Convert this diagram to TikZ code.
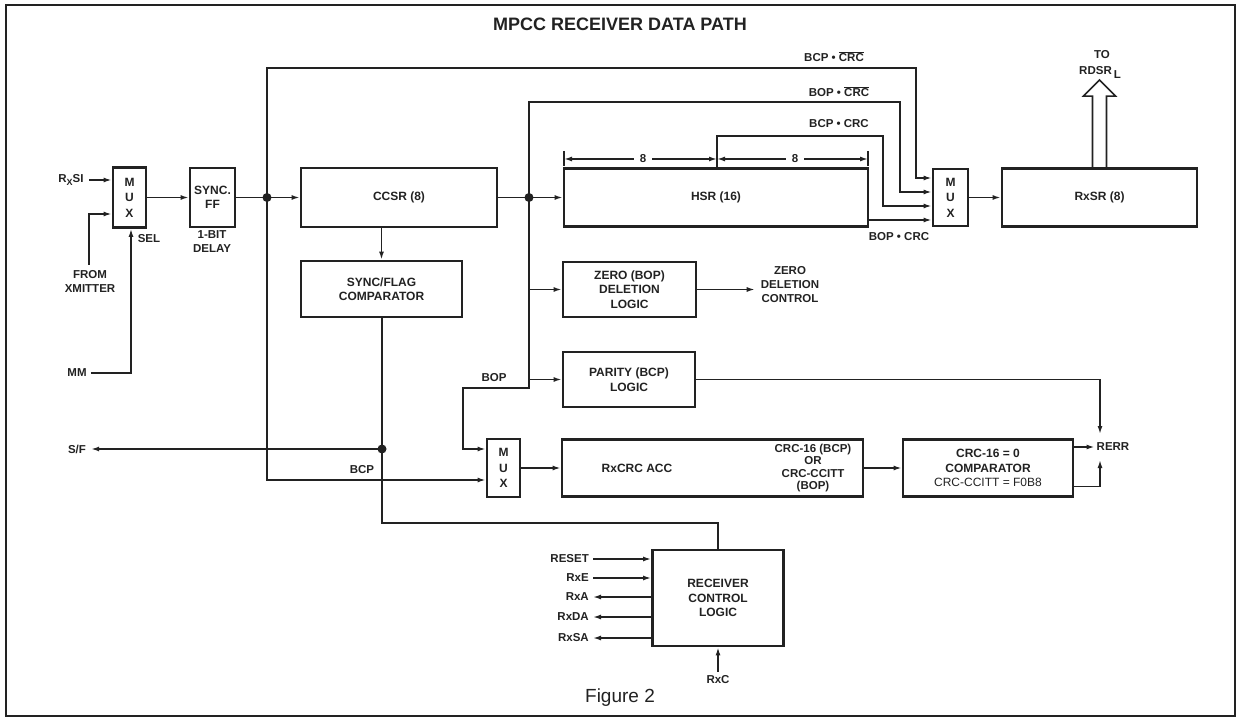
\documentclass[tikz,border=0pt]{standalone}
\usepackage{fontspec}
\setmainfont{Liberation Sans}
\usetikzlibrary{arrows.meta,calc}
\definecolor{ink}{HTML}{222222}
\newcommand\lbl{\bfseries\fontsize{11.5}{14}\selectfont}
\newcommand\bxf{\bfseries\fontsize{12}{14.5}\selectfont}
\newcommand\muxf{\bfseries\fontsize{12}{15.5}\selectfont}
\newcommand\ovl[1]{$\overline{\mbox{#1}}$}
\begin{document}
\begin{tikzpicture}[x=1pt,y=-1pt,color=ink,
  blk/.style={draw,line width=2.8pt,inner sep=0pt,align=center,font=\bxf},
  wire/.style={line width=1.5pt},
  arr/.style={line width=1.5pt,-{Latex[length=8pt,width=5pt]}},
  jdot/.style={circle,fill,inner sep=0pt,minimum size=9pt},
  lab/.style={inner sep=0pt,align=center,font=\lbl}]
\useasboundingbox (0,0) rectangle (1240,719);
\draw[line width=1.5pt] (6,5) rectangle (1235,716);

% title and caption
\node[font=\bfseries\fontsize{18}{20}\selectfont] (title) at (620,24) {MPCC RECEIVER DATA PATH};
\node[font=\fontsize{19}{21}\selectfont] (fig) at (620,698) {Figure 2};

% blocks
\node[blk,font=\muxf,minimum width=33pt,minimum height=60pt] (mux1) at (129.5,197.5) {M\\U\\X};
\node[blk,minimum width=45pt,minimum height=59pt] (sff) at (212.5,197.5) {SYNC.\\FF};
\node[blk,minimum width=196pt,minimum height=59pt] (ccsr) at (399,197.5) {CCSR (8)};
\node[blk,minimum width=161pt,minimum height=56pt] (sfc) at (381.5,289) {SYNC/FLAG\\COMPARATOR};
\node[blk,minimum width=304pt,minimum height=58pt] (hsr) at (716,197.5) {HSR (16)};
\node[blk,minimum width=133pt,minimum height=55pt] (zero) at (629.5,289.5) {ZERO (BOP)\\DELETION\\LOGIC};
\node[blk,minimum width=132pt,minimum height=55pt] (parity) at (629,379.5) {PARITY (BCP)\\LOGIC};
\node[blk,font=\muxf,minimum width=35pt,minimum height=57pt] (mux2) at (950.5,197.5) {M\\U\\X};
\node[blk,minimum width=195pt,minimum height=58pt] (rxsr) at (1099.5,197.5) {RxSR (8)};
\node[blk,font=\muxf,minimum width=33pt,minimum height=58pt] (mux3) at (503.5,468) {M\\U\\X};
\node[blk,minimum width=301pt,minimum height=57pt] (rxcrc) at (712.5,468) {};
\node[blk,minimum width=170pt,minimum height=57pt] (cmp) at (988,468) {CRC-16 = 0\\COMPARATOR\\{\mdseries CRC-CCITT = F0B8}};
\node[blk,minimum width=131pt,minimum height=96pt] (ctrl) at (718,598) {RECEIVER\\CONTROL\\LOGIC};
\node[lab,font=\bxf] (acc) at (637,468) {RxCRC ACC};
\node[lab,font=\bfseries\fontsize{11.5}{12.6}\selectfont] (crcm) at (813,468) {CRC-16 (BCP)\\OR\\CRC-CCITT\\(BOP)};

% junctions
\node[jdot] (j1) at (267,197.5) {};
\node[jdot] (j2) at (529,197.5) {};
\node[jdot] (j3) at (382,449) {};

% left inputs
\node[lab] (rxsi) at (71,180) {R\raisebox{-3pt}{\fontsize{9}{9}\selectfont X}SI};
\coordinate (in1) at (89,180);
\draw[arr] (in1) -- (in1 -| mux1.west);
\node[lab] (xm) at (90,281) {FROM\\XMITTER};
\coordinate (in2) at (89,214);
\draw[arr] ($(xm.north -| in2)+(0,-5)$) -- (in2) -- (in2 -| mux1.west);
\node[lab] (mm) at (77,373) {MM};
\draw[arr] ($(mm.east)+(4,0)$) -| ($(mux1.south)+(1.5,0)$);
\node[lab] (sel) at (149,239) {SEL};
\node[lab] (dly) at (212,242) {1-BIT\\DELAY};

% main data path
\draw[arr] (mux1.east) -- (sff.west);
\draw[wire] (sff.east) -- (j1.center);
\draw[arr] (j1.center) -- (ccsr.west);
\draw[arr] (sfc.north |- ccsr.south) -- (sfc.north);
\draw[wire] (ccsr.east) -- (j2.center);
\draw[arr] (j2.center) -- (hsr.west);
\draw[arr] (mux2.east) -- (rxsr.west);

% BCP . CRC-bar
\coordinate (k1) at (916,68);
\draw[arr] (j1.center) |- (k1) |- ($(mux2.west)+(0,-19.5)$);
\node[lab] (l1) at (834,57) {BCP \textbullet\ \ovl{CRC}};
% BOP . CRC-bar
\coordinate (k2) at (900,102);
\draw[arr] (j2.center) |- (k2) |- ($(mux2.west)+(0,-5.5)$);
\node[lab] (l2) at (839,92) {BOP \textbullet\ \ovl{CRC}};
% BCP . CRC
\coordinate (t3) at (717,136);
\coordinate (k3) at (883,136);
\draw[arr] (hsr.north -| t3) -- (t3) -- (k3) |- ($(mux2.west)+(0,8.5)$);
\node[lab] (l3) at (839,124) {BCP \textbullet\ CRC};
% BOP . CRC
\draw[arr] ($(hsr.east)+(0,22.5)$) -- ($(mux2.west)+(0,22.5)$);
\node[lab] (l4) at (899,237) {BOP \textbullet\ CRC};

% dimension marks over HSR
\coordinate (d0) at (564,159);
\coordinate (d1) at (717,159);
\coordinate (d2) at (868,159);
\draw[wire] ($(d0)+(0,-8)$) -- ($(d0)+(0,7)$);
\draw[wire] ($(d2)+(0,-8)$) -- ($(d2)+(0,7)$);
\node[lab,inner sep=6pt] (n8a) at (643,159) {8};
\node[lab,inner sep=6pt] (n8b) at (795,159) {8};
\draw[arr] (n8a.west) -- (d0);
\draw[arr] (n8a.east) -- (d1);
\draw[arr] (n8b.west) -- (d1);
\draw[arr] (n8b.east) -- (d2);

% output to RDSR
\draw[line width=1.6pt] ($(rxsr.north)+(-7,0)$) -- ++(0,-71) -- ++(-9,0) -- ++(16,-16) -- ++(16,16) -- ++(-9,0) -- ++(0,71);
\node[lab] (to) at (1102,55) {TO};
\node[lab] (rdsr) at (1100,72) {RDSR\,\raisebox{-4pt}{L}};

% zero deletion
\node[lab] (zdc) at (790,285) {ZERO\\DELETION\\CONTROL};
\draw[arr] (zero.east) -- ($(zdc.west |- zero.east)+(-6,0)$);
\draw[arr] (j2.center |- zero.west) -- (zero.west);
\draw[arr] (j2.center |- parity.west) -- (parity.west);

% BOP path to MUX3
\coordinate (b2) at (529,388);
\coordinate (b3) at (463,388);
\draw[arr] (j2.center) -- (b2) -- (b3) |- ($(mux3.west)+(0,-19)$);
\node[lab] (bop) at (494,378) {BOP};

% BCP path to MUX3
\coordinate (b1) at (267,480);
\draw[arr] (j1.center) -- (b1) -- (b1 -| mux3.west);
\node[lab] (bcp) at (362,470) {BCP};

% S/F
\node[lab] (sf) at (77,449) {S/F};
\draw[arr] (j3.center) -- ($(sf.east)+(5,0)$);
\coordinate (b4) at (382,523);
\draw[wire] (sfc.south -| j3) -- (b4) -| (ctrl.north);

% CRC chain
\draw[arr] (mux3.east) -- (rxcrc.west);
\draw[arr] (rxcrc.east) -- (cmp.west);
\node[lab] (rerr) at (1113,447) {RERR};
\draw[arr] ($(cmp.east)+(0,-21)$) -- ($(rerr.west)+(-2,0)$);
\coordinate (rn) at (1100,434);
\coordinate (rs) at (1100,460);
\draw[arr] (parity.east) -| (rn);
\draw[arr] ($(cmp.east)+(0,18.5)$) -| (rs);

% receiver control signals
\node[lab,anchor=east] (rst) at (589,559) {RESET};
\node[lab,anchor=east] (rxe) at (589,578) {RxE};
\node[lab,anchor=east] (rxa) at (589,597) {RxA};
\node[lab,anchor=east] (rxda) at (589,617) {RxDA};
\node[lab,anchor=east] (rxsa) at (589,638) {RxSA};
\draw[arr] ($(rst.east)+(4,0)$) -- (ctrl.west |- rst);
\draw[arr] ($(rxe.east)+(4,0)$) -- (ctrl.west |- rxe);
\draw[arr] (ctrl.west |- rxa) -- ($(rxa.east)+(4,0)$);
\draw[arr] (ctrl.west |- rxda) -- ($(rxda.east)+(4,0)$);
\draw[arr] (ctrl.west |- rxsa) -- ($(rxsa.east)+(4,0)$);
\node[lab] (rxc) at (718,680) {RxC};
\draw[arr] ($(rxc.north)+(0,-4)$) -- (ctrl.south);
\end{tikzpicture}
\end{document}
